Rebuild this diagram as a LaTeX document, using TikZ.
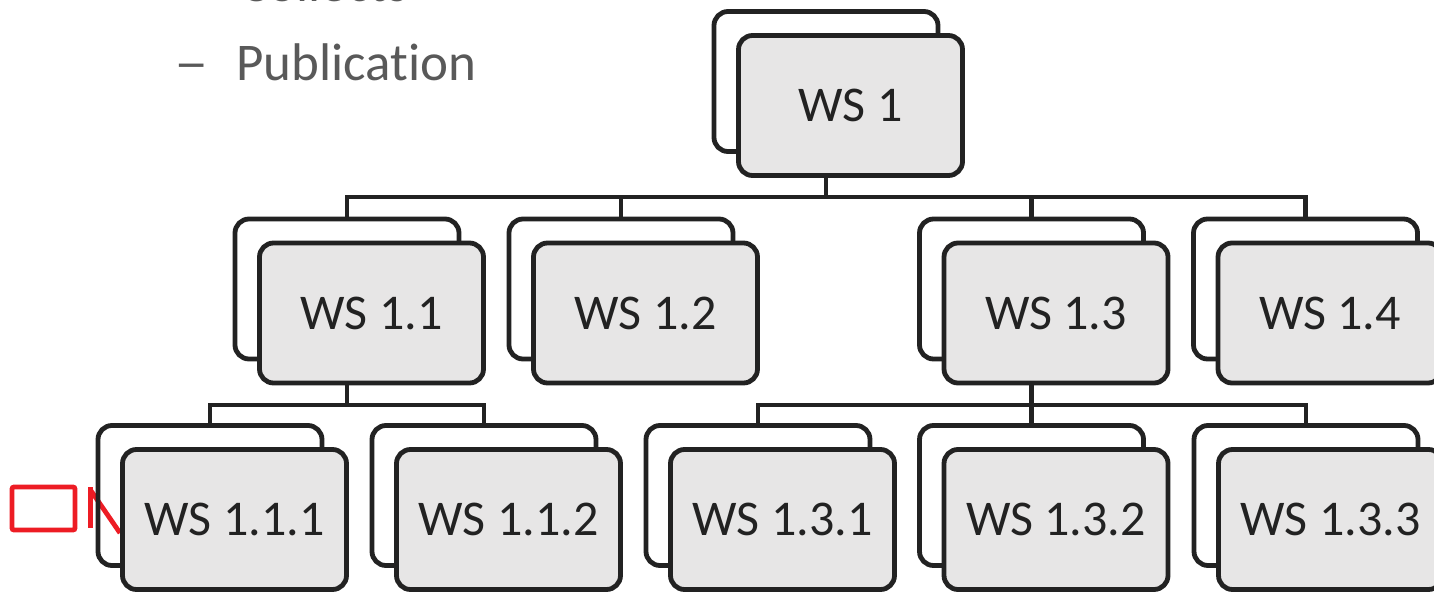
\documentclass[tikz,border=0pt]{standalone}
\usepackage{fontspec}
\setmainfont[Ligatures=NoCommon]{Carlito}
\definecolor{ln}{HTML}{222222}
\definecolor{fl}{HTML}{E7E6E6}
\definecolor{tx}{HTML}{595959}
\definecolor{rd}{HTML}{ED1C24}
\begin{document}
\begin{tikzpicture}[x=1pt,y=-1pt,
  wsfront/.style={draw=ln, line width=4.8pt, fill=fl, rounded corners=14pt, minimum width=224pt, minimum height=140pt, inner sep=0pt, font=\fontsize{50}{60}\selectfont, text=ln},
  wsback/.style={draw=ln, line width=4.8pt, rounded corners=14pt, minimum width=224pt, minimum height=140pt, inner sep=0pt},
  conn/.style={draw=ln, line width=4.8pt},
  redmark/.style={draw=rd, line width=4.8pt},
  bullet/.style={text=tx, font=\fontsize{53}{60}\selectfont, inner sep=0pt, anchor=base west}]
\useasboundingbox (0,0) rectangle (1434,592);
\clip (0,0) rectangle (1434,592);
% bullet text
\node[bullet] (collects) at (240,1.5) {Collects};
\node[bullet] (dash) at (174,80) {\scalebox{1.3}[1]{–}};
\node[bullet] (pub) at (236,80) {Publication};
% red marks
\draw[redmark, rounded corners=2pt] (12,487) rectangle (75,530);
\coordinate (r1) at (90.5,487);
\coordinate (r2) at (90.5,528);
\coordinate (r3) at (90.5,490);
\coordinate (r4) at (120,533);
\draw[redmark] (r1) -- (r2);
\draw[redmark] (r3) -- (r4);
% back boxes
\node[wsback] (b1) at (826,81.5) {};
\node[wsback] (b11) at (347,289) {};
\node[wsback] (b12) at (621,289) {};
\node[wsback] (b13) at (1031.5,289) {};
\node[wsback] (b14) at (1305.5,289) {};
\node[wsback] (b111) at (210,495.5) {};
\node[wsback] (b112) at (484,495.5) {};
\node[wsback] (b131) at (758,495.5) {};
\node[wsback] (b132) at (1031.5,495.5) {};
\node[wsback] (b133) at (1306,495.5) {};
% connectors
\coordinate (bar1) at (826,197);
\coordinate (bar2) at (347,405);
\coordinate (bar3) at (1031.5,405);
\draw[conn] (b1.south) -- (bar1);
\draw[conn] (b11.north) |- (bar1) -| (b14.north);
\draw[conn] (b12.north) -- (b12.north |- bar1);
\draw[conn] (b13.north) -- (b13.north |- bar1);
\draw[conn] (b11.south) -- (bar2);
\draw[conn] (b111.north) |- (bar2) -| (b112.north);
\draw[conn] (b13.south) -- (bar3);
\draw[conn] (b131.north) |- (bar3) -| (b133.north);
\draw[conn] (b132.north) -- (b132.north |- bar3);
% front boxes
\node[wsfront] (f1) at (850.5,105.5) {WS 1};
\node[wsfront] (f11) at (371.5,313) {WS 1.1};
\node[wsfront] (f12) at (645.5,313) {WS 1.2};
\node[wsfront] (f13) at (1056,313) {WS 1.3};
\node[wsfront] (f14) at (1330,313) {WS 1.4};
\node[wsfront] (f111) at (234.5,519.5) {WS 1.1.1};
\node[wsfront] (f112) at (508.5,519.5) {WS 1.1.2};
\node[wsfront] (f131) at (782.5,519.5) {WS 1.3.1};
\node[wsfront] (f132) at (1056,519.5) {WS 1.3.2};
\node[wsfront] (f133) at (1330.5,519.5) {WS 1.3.3};
\end{tikzpicture}
\end{document}
